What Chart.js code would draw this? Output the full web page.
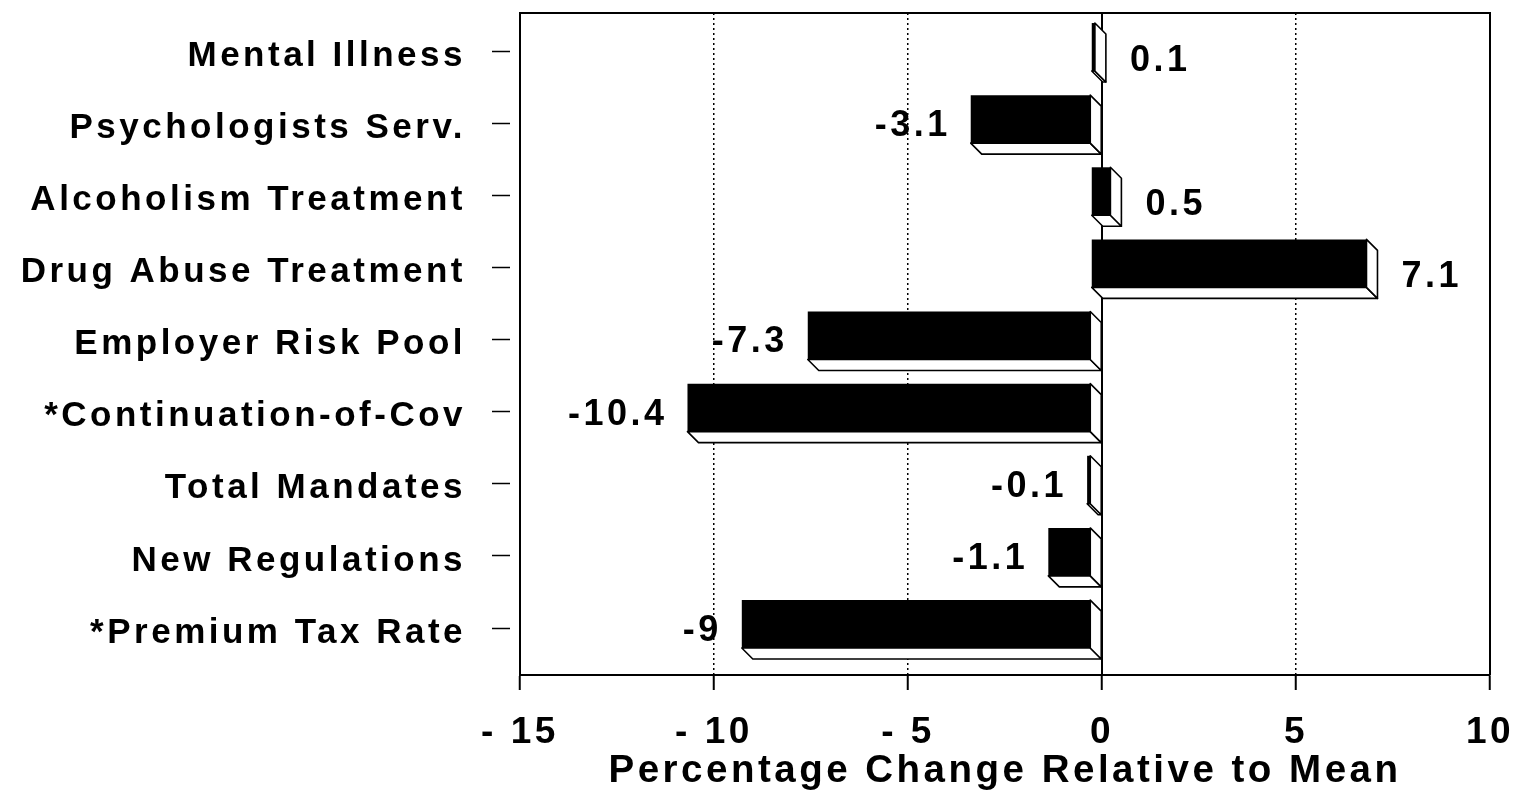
<!DOCTYPE html>
<html>
<head>
<meta charset="utf-8">
<script src="https://cdn.jsdelivr.net/npm/chart.js@4/dist/chart.umd.min.js"></script>
<style>
  html, body { margin: 0; padding: 0; background: #fff; }
  canvas { display: block; }
</style>
</head>
<body>
<canvas id="chart" width="1522" height="800"></canvas>
<script>
// Mandate / regulation effects, percent change relative to the mean
const categories = [
  'Mental Illness',
  'Psychologists Serv.',
  'Alcoholism Treatment',
  'Drug Abuse Treatment',
  'Employer Risk Pool',
  '*Continuation-of-Cov',
  'Total Mandates',
  'New Regulations',
  '*Premium Tax Rate'
];
const changes = [0.1, -3.1, 0.5, 7.1, -7.3, -10.4, -0.1, -1.1, -9];
const xTickValues = [-15, -10, -5, 0, 5, 10];
const xTitle = 'Percentage Change Relative to Mean';

const FONT = '"Liberation Sans", Arial, Helvetica, sans-serif';
const SPACING = '3.5px';
const DEPTH = 11;   // 3D extrusion of each bar, px
const LIFT = 4;     // front face raised above the tick, px

// Draws the white side/bottom faces, shifts the black front faces and writes values
const bar3d = {
  id: 'bar3d',
  beforeDraw(chart) {
    chart.ctx.letterSpacing = SPACING;
  },
  beforeDatasetsDraw(chart) {
    const { ctx, chartArea: a, scales: { x } } = chart;
    const x0 = x.getPixelForValue(0);
    ctx.save();
    ctx.strokeStyle = '#000';
    ctx.lineWidth = 2;
    ctx.beginPath();
    ctx.moveTo(x0, a.top);
    ctx.lineTo(x0, a.bottom);
    ctx.stroke();
    // plot frame: top and right edges
    ctx.beginPath();
    ctx.moveTo(a.left, a.top);
    ctx.lineTo(a.right, a.top);
    ctx.lineTo(a.right, a.bottom);
    ctx.stroke();

    ctx.lineWidth = 1.6;
    ctx.lineJoin = 'round';
    ctx.fillStyle = '#fff';
    chart.getDatasetMeta(0).data.forEach(bar => {
      const p = bar.getProps(['x', 'y', 'base', 'height'], true);
      const L = Math.min(p.x, p.base), R = Math.max(p.x, p.base);
      const fL = L - DEPTH, fR = R - DEPTH;
      const fT = p.y - LIFT - p.height / 2, fB = p.y - LIFT + p.height / 2;
      ctx.beginPath();
      ctx.moveTo(fL, fB); ctx.lineTo(fR, fB);
      ctx.lineTo(R, fB + DEPTH); ctx.lineTo(L, fB + DEPTH);
      ctx.closePath(); ctx.fill(); ctx.stroke();
      ctx.beginPath();
      ctx.moveTo(fR, fT); ctx.lineTo(R, fT + DEPTH);
      ctx.lineTo(R, fB + DEPTH); ctx.lineTo(fR, fB);
      ctx.closePath(); ctx.fill(); ctx.stroke();
    });
    ctx.restore();
    ctx.save();
    ctx.translate(-DEPTH, -LIFT);
  },
  afterDatasetsDraw(chart) {
    const ctx = chart.ctx;
    ctx.restore();
    ctx.save();
    ctx.font = 'bold 36px ' + FONT;
    ctx.fillStyle = '#000';
    ctx.textBaseline = 'middle';
    ctx.letterSpacing = SPACING;
    chart.getDatasetMeta(0).data.forEach((bar, i) => {
      const v = changes[i];
      const p = bar.getProps(['x', 'y', 'base'], true);
      if (v >= 0) {
        ctx.textAlign = 'left';
        ctx.fillText(String(v), p.x + 24, p.y + 10);
      } else {
        ctx.textAlign = 'right';
        ctx.fillText(String(v), p.x - DEPTH - 20, p.y + 3);
      }
    });
    ctx.restore();
  }
};

new Chart(document.getElementById('chart'), {
  type: 'bar',
  data: {
    datasets: [{
      data: changes.map((v, i) => ({ x: v, y: i })),
      backgroundColor: '#000',
      borderColor: '#000',
      borderWidth: 0,
      categoryPercentage: 1,
      barPercentage: 0.665
    }]
  },
  options: {
    indexAxis: 'y',
    responsive: false,
    animation: false,
    devicePixelRatio: 1,
    layout: { padding: { top: 13, right: 32, left: 0, bottom: 0 } },
    plugins: { legend: { display: false }, tooltip: { enabled: false } },
    scales: {
      x: {
        type: 'linear',
        min: -15,
        max: 10,
        afterBuildTicks(s) { s.ticks = xTickValues.map(v => ({ value: v })); },
        afterFit(s) { s.height = 125; s.paddingLeft = 0; s.paddingRight = 0; },
        ticks: {
          color: '#000',
          padding: 21,
          maxRotation: 0,
          autoSkip: false,
          font: { family: FONT, size: 37, weight: 'bold' },
          callback: v => (v < 0 ? '- ' + Math.abs(v) : String(v))
        },
        grid: {
          color: c => (c.tick && [-15, 0, 10].includes(c.tick.value) ? 'rgba(0,0,0,0)' : '#000'),
          lineWidth: 1.5,
          tickColor: '#000',
          tickWidth: 2,
          tickLength: 15,
          tickBorderDash: []
        },
        border: { display: true, color: '#000', width: 2, dash: [2, 3] },
        title: {
          display: true,
          text: xTitle,
          color: '#000',
          font: { family: FONT, size: 38.5, weight: 'bold' },
          padding: { top: 0, bottom: 6 }
        }
      },
      y: {
        type: 'linear',
        reverse: true,
        bounds: 'data',
        offset: false,
        min: -0.527,
        max: 8.651,
        afterBuildTicks(s) { s.ticks = categories.map((c, i) => ({ value: i })); },
        afterFit(s) { s.width = 520; s.paddingTop = 0; s.paddingBottom = 0; },
        ticks: {
          color: '#000',
          padding: 26,
          labelOffset: 5,
          autoSkip: false,
          font: { family: FONT, size: 35, weight: 'bold' },
          callback: v => categories[v]
        },
        grid: {
          offset: false,
          drawOnChartArea: false,
          drawTicks: true,
          tickLength: 28,
          tickColor: '#000',
          tickWidth: 1.5,
          tickBorderDash: [18, 12]
        },
        border: { display: true, color: '#000', width: 2 }
      }
    }
  },
  plugins: [bar3d]
});
</script>
</body>
</html>
